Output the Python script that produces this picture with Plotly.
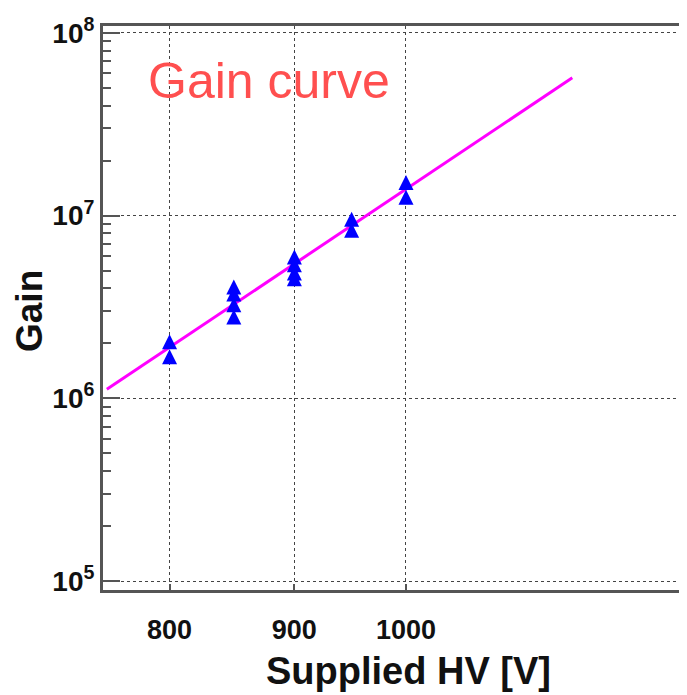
import plotly.graph_objects as go

# Measured points (blue triangles)
hv_points = [800, 800,
             850, 850, 850, 850,
             900, 900, 900, 900,
             950, 950,
             1000, 1000]
gain_points = [2.04e6, 1.69e6,
               4.07e6, 3.73e6, 3.25e6, 2.79e6,
               5.94e6, 5.38e6, 4.86e6, 4.51e6,
               9.57e6, 8.33e6,
               1.52e7, 1.26e7]

# Fitted gain curve (magenta line) end points
hv_fit = [754, 1170]
gain_fit = [1.12e6, 5.68e7]

x_tick_vals = [800, 900, 1000]
x_tick_text = ["800", "900", "1000"]
y_tick_vals = [1e5, 1e6, 1e7, 1e8]
y_tick_text = ["10<sup>5</sup>", "10<sup>6</sup>", "10<sup>7</sup>", "10<sup>8</sup>"]
y_minor_vals = [k * 10 ** d for d in (5, 6, 7) for k in range(2, 10)]

FONT = "Liberation Sans, Arial, Helvetica, sans-serif"
AX = "#555555"
GRID = "#444444"

# the page body adds an 8px offset; the figure is sized to fit the window
OFF = 8

fig = go.Figure()
fig.add_trace(go.Scatter(
    x=hv_fit, y=gain_fit, mode="lines",
    line=dict(color="#ff00ff", width=3), showlegend=False, hoverinfo="skip"))
fig.add_trace(go.Scatter(
    x=hv_points, y=gain_points, mode="markers",
    marker=dict(symbol="arrow-down", angle=180, standoff=7.5, size=15,
                color="#0000ff", line=dict(width=0)),
    showlegend=False))

fig.update_layout(
    width=687 - OFF, height=695 - OFF,
    margin=dict(l=103 - OFF, r=0, t=26 - OFF, b=105),
    paper_bgcolor="white", plot_bgcolor="white",
    font=dict(family=FONT, color="#111111"),
    xaxis=dict(
        type="log", range=[2.8758, 3.1152], automargin=False,
        tickmode="array", tickvals=x_tick_vals, ticktext=x_tick_text,
        ticks="inside", ticklen=6, tickwidth=2, tickcolor=AX,
        showline=True, linewidth=3, linecolor=AX, mirror=True,
        showgrid=True, gridcolor=GRID, griddash="dot", gridwidth=1,
        zeroline=False,
        tickfont=dict(family=FONT, size=27, color="#111111", weight="bold"),
        ticklabelstandoff=14,
    ),
    yaxis=dict(
        type="log", range=[4.951, 8.038], automargin=False,
        tickmode="array", tickvals=y_tick_vals, ticktext=y_tick_text,
        ticks="inside", ticklen=17, tickwidth=2, tickcolor=AX,
        minor=dict(tickmode="array", tickvals=y_minor_vals, ticks="inside",
                   ticklen=8, tickwidth=2, tickcolor=AX, showgrid=False),
        showline=True, linewidth=3, linecolor=AX,
        showgrid=True, gridcolor=GRID, griddash="dot", gridwidth=1,
        zeroline=False,
        tickfont=dict(family=FONT, size=28, color="#111111", weight="bold"),
    ),
    annotations=[
        dict(text="Gain curve", xref="paper", yref="paper",
             x=0.0736, y=0.9025, xanchor="left", yanchor="middle",
             showarrow=False, font=dict(family=FONT, size=50, color="#ff4f4f")),
        dict(text="Supplied HV [V]", xref="paper", yref="paper",
             x=(408 - 103) / 584, y=(590 - 671) / 564,
             xanchor="center", yanchor="middle", showarrow=False,
             font=dict(family=FONT, size=38, color="#111111", weight="bold")),
        dict(text="Gain", xref="paper", yref="paper",
             x=(30 - 103) / 584, y=(590 - 311) / 564, textangle=-90,
             xanchor="center", yanchor="middle", showarrow=False,
             font=dict(family=FONT, size=37, color="#111111", weight="bold")),
    ],
)

fig.write_html("out.html")
